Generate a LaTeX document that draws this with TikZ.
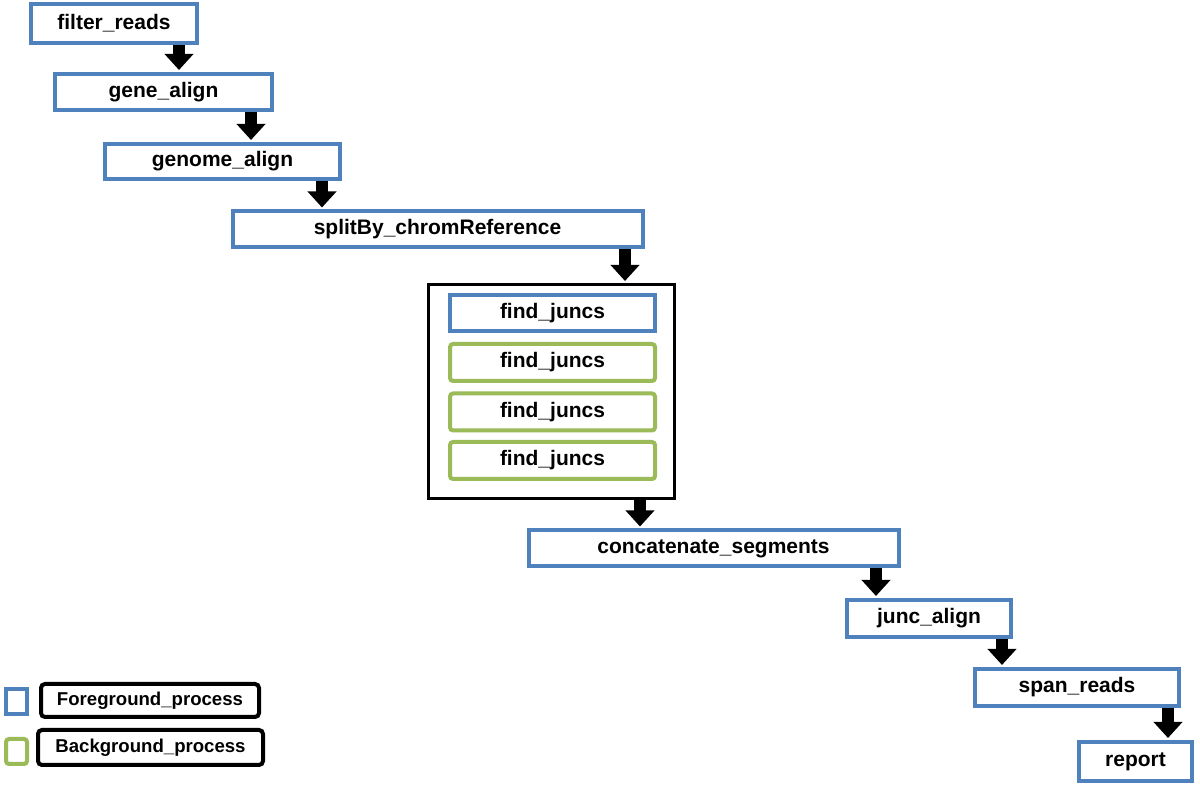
\documentclass[tikz,border=0pt]{standalone}
\usepackage{fontspec}
\setmainfont{Liberation Sans}
\usepackage{tikz}
\usetikzlibrary{arrows.meta}
\usetikzlibrary{positioning}

\definecolor{fgblue}{RGB}{79,129,189}
\definecolor{bggreen}{RGB}{155,187,89}

\tikzset{
  proc/.style={draw=fgblue, line width=2pt, fill=white, inner sep=0pt,
    font=\fontsize{10.5}{12}\selectfont\bfseries},
  bgproc/.style={proc, draw=bggreen, rounded corners=1.5pt},
  group/.style={draw=black, line width=1.3pt, fill=white, inner sep=0pt},
  legendbox/.style={draw=black, line width=2pt, rounded corners=2pt, inner sep=0pt,
    font=\fontsize{9.3}{11}\selectfont\bfseries},
  flow/.style={line width=5.8pt, -{Triangle[width=14pt,length=8pt]}, shorten >=1pt}
}

\begin{document}
\begin{tikzpicture}[x=0.5pt, y=-0.5pt]
\useasboundingbox (0,0) rectangle (1200,785);
% main chain
\node[proc, minimum width=83pt, minimum height=19.5pt] (filter) at (114,23.5) {filter\_reads};
\node[proc, minimum width=108.5pt, minimum height=18pt] (gene) at (163.5,92) {gene\_align};
\node[proc, minimum width=117.5pt, minimum height=17.5pt] (genome) at (222.5,161.5) {genome\_align};
\node[proc, minimum width=205pt, minimum height=18pt] (split) at (437.5,229.5) {splitBy\_chromReference};
% find_juncs group
\node[group, minimum width=123.2pt, minimum height=107.2pt] (group) at (551.5,391.5) {};
\node[proc, minimum width=102.5pt, minimum height=18pt] (find1) at (552.5,313) {find\_juncs};
\node[bgproc, minimum width=102.5pt, minimum height=18.5pt] (find2) at (552.5,362.5) {find\_juncs};
\node[bgproc, minimum width=102.5pt, minimum height=18.5pt] (find3) at (552.5,412) {find\_juncs};
\node[bgproc, minimum width=102.5pt, minimum height=18.5pt] (find4) at (552.5,460.5) {find\_juncs};
\node[proc, minimum width=185pt, minimum height=18pt] (concat) at (713.5,548.5) {concatenate\_segments};
\node[proc, minimum width=82pt, minimum height=18.5pt] (junc) at (929,618.5) {junc\_align};
\node[proc, minimum width=102pt, minimum height=18.5pt] (span) at (1077,687.5) {span\_reads};
\node[proc, minimum width=56.5pt, minimum height=19.5pt] (report) at (1135.5,761.5) {report};
% arrows
\foreach \a/\b/\x in {filter/gene/179, gene/genome/251, genome/split/322,
    split/group/625, group/concat/640, concat/junc/876, junc/span/1002, span/report/1168}
{
  \draw[flow] (\a.south -| \x,0) -- (\b.north -| \x,0);
}
% legend
\node[proc, minimum width=10.5pt, minimum height=12.5pt] (fgkey) at (16.5,701.5) {};
\node[bgproc, minimum width=10.5pt, minimum height=12.5pt] (bgkey) at (16.5,751.5) {};
\node[legendbox, minimum width=109pt, minimum height=16.5pt] (fglabel) at (150,700.5) {Foreground\_process};
\node[legendbox, minimum width=112.5pt, minimum height=17.5pt] (bglabel) at (150.5,747.5) {Background\_process};
\end{tikzpicture}
\end{document}
